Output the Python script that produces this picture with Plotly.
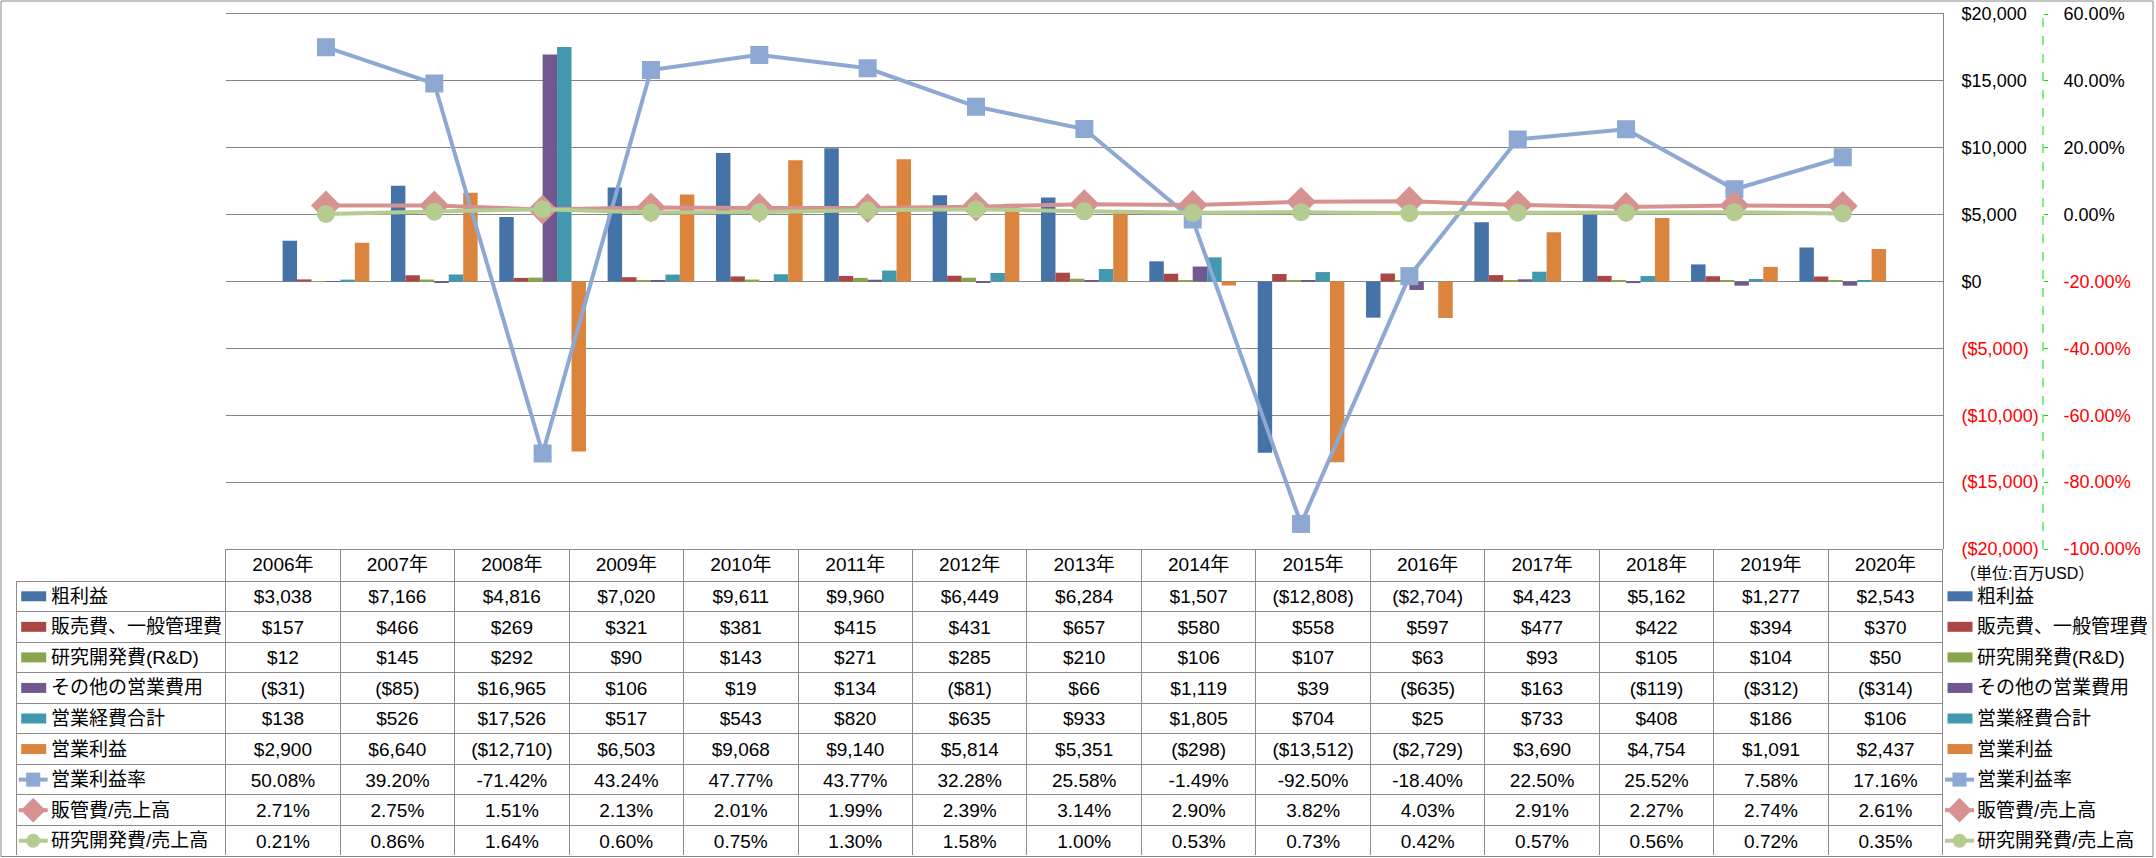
import plotly.graph_objects as go

# ---------------- data ----------------
years = ["2006年", "2007年", "2008年", "2009年", "2010年", "2011年", "2012年", "2013年",
         "2014年", "2015年", "2016年", "2017年", "2018年", "2019年", "2020年"]

gross_profit = [3038, 7166, 4816, 7020, 9611, 9960, 6449, 6284, 1507, -12808, -2704, 4423, 5162, 1277, 2543]
sga = [157, 466, 269, 321, 381, 415, 431, 657, 580, 558, 597, 477, 422, 394, 370]
rnd = [12, 145, 292, 90, 143, 271, 285, 210, 106, 107, 63, 93, 105, 104, 50]
other_opex = [-31, -85, 16965, 106, 19, 134, -81, 66, 1119, 39, -635, 163, -119, -312, -314]
total_opex = [138, 526, 17526, 517, 543, 820, 635, 933, 1805, 704, 25, 733, 408, 186, 106]
operating_income = [2900, 6640, -12710, 6503, 9068, 9140, 5814, 5351, -298, -13512, -2729, 3690, 4754, 1091, 2437]

op_margin = [50.08, 39.20, -71.42, 43.24, 47.77, 43.77, 32.28, 25.58, -1.49, -92.50, -18.40, 22.50, 25.52, 7.58, 17.16]
sga_ratio = [2.71, 2.75, 1.51, 2.13, 2.01, 1.99, 2.39, 3.14, 2.90, 3.82, 4.03, 2.91, 2.27, 2.74, 2.61]
rnd_ratio = [0.21, 0.86, 1.64, 0.60, 0.75, 1.30, 1.58, 1.00, 0.53, 0.73, 0.42, 0.57, 0.56, 0.72, 0.35]

bar_names = ["粗利益", "販売費、一般管理費", "研究開発費(R&D)", "その他の営業費用", "営業経費合計", "営業利益"]
bar_series = [gross_profit, sga, rnd, other_opex, total_opex, operating_income]
line_names = ["営業利益率", "販管費/売上高", "研究開発費/売上高"]
line_series = [op_margin, sga_ratio, rnd_ratio]

usd_ticks = [20000, 15000, 10000, 5000, 0, -5000, -10000, -15000, -20000]
pct_ticks = [60, 40, 20, 0, -20, -40, -60, -80, -100]
unit_label = "（単位:百万USD）"

# ---------------- style ----------------
bar_colors = ["#4572A7", "#AA4643", "#89A54E", "#71588F", "#4198AF", "#DB843D"]
line_colors = ["#8DA8D2", "#D69291", "#B5CC91"]
line_symbols = ["square", "diamond", "circle"]
line_msizes = [18, 23, 18]
GRID = "#868686"
TBL = "#8C8C8C"
RED = "#FF0000"
FONT = "Liberation Sans, Noto Sans CJK JP, sans-serif"

W, H = 2156, 858
PLOT_L, PLOT_R, PLOT_T, PLOT_B = 225.7, 1943.0, 14.0, 549.0
TABLE_L, TABLE_B = 16.7, 856.0
HEADER_H = 32
ROW_H = (TABLE_B - PLOT_B - HEADER_H) / 9
COL_W = (PLOT_R - PLOT_L) / len(years)
SEC_AXIS_X = 2043.0


def fmt_usd(v):
    s = "${:,}".format(abs(v))
    return "(" + s + ")" if v < 0 else s


def fmt_pct(v):
    return "{:.2f}%".format(v)


def red_if_neg(txt, v):
    return '<span style="color:%s">%s</span>' % (RED, txt) if v < 0 else txt


fig = go.Figure()

# bars
for name, vals, col in zip(bar_names, bar_series, bar_colors):
    fig.add_trace(go.Bar(x=years, y=vals, name=name, marker=dict(color=col, line=dict(width=0)),
                         xaxis="x", yaxis="y", showlegend=False))

# lines on secondary axis
for name, vals, col, sym, ms in zip(line_names, line_series, line_colors, line_symbols, line_msizes):
    fig.add_trace(go.Scatter(x=years, y=[v / 100 for v in vals], name=name, mode="lines+markers",
                             line=dict(color=col, width=4),
                             marker=dict(symbol=sym, size=ms, color=col, line=dict(width=0)),
                             xaxis="x", yaxis="y2", showlegend=False))

# ---------------- data table ----------------
all_names = bar_names + line_names
year_cols = []
for i in range(len(years)):
    col = [fmt_usd(s[i]) for s in bar_series] + [fmt_pct(s[i]) for s in line_series]
    year_cols.append(col)

fig.add_trace(go.Table(
    domain=dict(x=[TABLE_L / W, PLOT_R / W], y=[1 - TABLE_B / H, 1 - PLOT_B / H]),
    columnwidth=[PLOT_L - TABLE_L] + [COL_W] * len(years),
    header=dict(values=[""] + years, height=HEADER_H, align="center",
                font=dict(family=FONT, size=19, color="black"),
                fill=dict(color="rgba(0,0,0,0)"),
                line=dict(color=["rgba(0,0,0,0)"] + [TBL] * len(years), width=1)),
    cells=dict(values=[[""] * len(all_names)] + year_cols, height=ROW_H,
               align=["left"] + ["center"] * len(years),
               font=dict(family=FONT, size=19, color="black"),
               fill=dict(color="rgba(0,0,0,0)"),
               line=dict(color=TBL, width=1)),
))

# legend keys + labels (pixel overlay axis), in the table and at the right
shapes = []
annotations = []
for lx in (TABLE_L, PLOT_R):
    for i, name in enumerate(all_names):
        yc = PLOT_B + HEADER_H + ROW_H * (i + 0.5)
        if i < 6:
            shapes.append(dict(type="rect", xref="x3", yref="y3", x0=lx + 4.5, x1=lx + 29.5,
                               y0=yc - 5, y1=yc + 5, fillcolor=bar_colors[i], line=dict(width=0)))
        else:
            j = i - 6
            fig.add_trace(go.Scatter(x=[lx + 2, lx + 31], y=[yc, yc], mode="lines",
                                     line=dict(color=line_colors[j], width=4),
                                     xaxis="x3", yaxis="y3", showlegend=False, hoverinfo="skip"))
            fig.add_trace(go.Scatter(x=[lx + 16.5], y=[yc], mode="markers",
                                     marker=dict(symbol=line_symbols[j], size=line_msizes[j] - 4,
                                                 color=line_colors[j], line=dict(width=0)),
                                     xaxis="x3", yaxis="y3", showlegend=False, hoverinfo="skip"))
        annotations.append(dict(xref="x3", yref="y3", x=lx + 32, y=yc, text=name, showarrow=False,
                                xanchor="left", yanchor="middle",
                                font=dict(family=FONT, size=19, color="black")))

annotations.append(dict(xref="x3", yref="y3", x=1958, y=573, text=unit_label, showarrow=False,
                        xanchor="left", yanchor="middle", font=dict(family=FONT, size=16, color="black")))

# outer frame
shapes.append(dict(type="rect", xref="x3", yref="y3", x0=1, x1=W - 3, y0=1, y1=H - 1.5,
                   line=dict(color="#888888", width=1), fillcolor="rgba(0,0,0,0)", layer="below"))
# secondary axis dashed line
shapes.append(dict(type="line", xref="paper", yref="y2", x0=SEC_AXIS_X / W, x1=SEC_AXIS_X / W,
                   y0=min(pct_ticks) / 100, y1=max(pct_ticks) / 100,
                   line=dict(color="#00E000", width=1, dash="dash")))

fig.update_layout(
    width=W, height=H, margin=dict(l=0, r=0, t=0, b=0, autoexpand=False),
    paper_bgcolor="white", plot_bgcolor="rgba(0,0,0,0)",
    barmode="group", bargap=0.2, bargroupgap=0,
    font=dict(family=FONT, size=18, color="black"),
    showlegend=False,
    xaxis=dict(domain=[PLOT_L / W, PLOT_R / W], type="category", showticklabels=False, side="top",
               showgrid=False, zeroline=False, ticks="", showline=True, linecolor=GRID, linewidth=1,
               anchor="y", automargin=False),
    yaxis=dict(domain=[1 - PLOT_B / H, 1 - PLOT_T / H], range=[-20000, 20000], side="right",
               tickvals=usd_ticks, ticktext=[red_if_neg(fmt_usd(v), v) for v in usd_ticks],
               showgrid=True, gridcolor=GRID, gridwidth=1, zeroline=False,
               showline=True, linecolor=GRID, linewidth=1, ticks="", ticklabelstandoff=14,
               tickfont=dict(family=FONT, size=18, color="black"), anchor="x", automargin=False),
    yaxis2=dict(overlaying="y", side="right", anchor="free", position=SEC_AXIS_X / W,
                range=[-1.0, 0.6], tickvals=[v / 100 for v in pct_ticks],
                ticktext=[red_if_neg(fmt_pct(v), v) for v in pct_ticks],
                showgrid=False, zeroline=False, showline=False, automargin=False,
                ticks="outside", ticklen=4, tickcolor="#00E000", tickwidth=1, ticklabelstandoff=12,
                tickfont=dict(family=FONT, size=18, color="black")),
    xaxis3=dict(domain=[0, 1], range=[0, W], visible=False, anchor="y3", fixedrange=True, automargin=False),
    yaxis3=dict(domain=[0, 1], range=[H, 0], visible=False, anchor="x3", fixedrange=True, automargin=False),
    shapes=shapes,
    annotations=annotations,
)

fig.write_html("out.html", config={"displayModeBar": False},
               post_script="document.body.style.margin='0';document.body.style.overflow='hidden';")
